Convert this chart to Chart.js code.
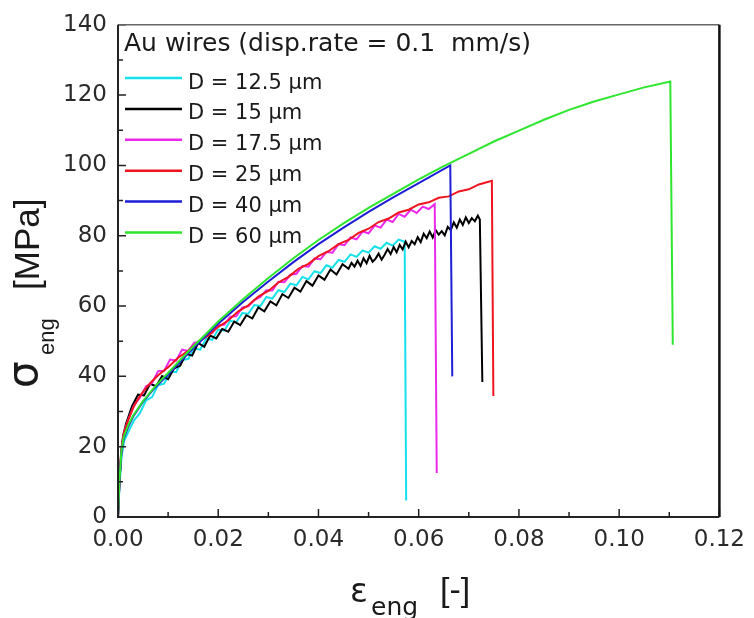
<!DOCTYPE html>
<html>
<head>
<meta charset="utf-8">
<script src="https://cdn.jsdelivr.net/npm/chart.js@4/dist/chart.umd.min.js"></script>
<style>
  html, body { margin: 0; padding: 0; background: #fff; }
  #wrap { width: 754px; height: 618px; }
</style>
</head>
<body>
<div id="wrap"><canvas id="stressstrain" width="754" height="618"></canvas></div>
<script>
// series labels and colours
const seriesLabels = ["D = 12.5 \u00b5m", "D = 15 \u00b5m", "D = 17.5 \u00b5m", "D = 25 \u00b5m", "D = 40 \u00b5m", "D = 60 \u00b5m"];
const seriesColors = ["rgb(20,225,235)", "rgb(0,0,0)", "rgb(235,40,235)", "rgb(240,20,30)", "rgb(30,30,215)", "rgb(45,230,45)"];

// D = 12.5 um
const strainCyan = [0, 0.0003, 0.0007, 0.0012, 0.002, 0.0032, 0.0044, 0.0056, 0.0068, 0.008, 0.0092, 0.0104, 0.0116, 0.0128, 0.014, 0.0152, 0.0164, 0.0176, 0.0188, 0.02, 0.0212, 0.0224, 0.0236, 0.0248, 0.026, 0.0272, 0.0284, 0.0296, 0.0308, 0.032, 0.0332, 0.0344, 0.0356, 0.0368, 0.038, 0.0392, 0.0404, 0.0416, 0.0428, 0.044, 0.0452, 0.0464, 0.0476, 0.0488, 0.05, 0.0512, 0.0524, 0.0536, 0.0548, 0.056, 0.0572, 0.0575];
const stressCyan = [0, 9, 17, 21.5, 24, 27.5, 29.6, 33.2, 34.1, 37.5, 37.9, 41.4, 41.2, 44.6, 45.0, 47.9, 47.6, 50.8, 50.4, 53.3, 53.0, 55.8, 55.4, 58.0, 57.8, 60.3, 60.0, 62.6, 62.1, 64.5, 64.0, 66.4, 65.9, 68.3, 67.6, 69.9, 69.4, 71.6, 70.9, 73.1, 72.6, 74.7, 74.0, 75.8, 75.2, 77.0, 76.3, 78.0, 77.2, 78.9, 78.3, 4.7];

// D = 15 um
const strainBlack = [0, 0.0003, 0.0006, 0.001, 0.0016, 0.0028, 0.004, 0.0052, 0.0064, 0.0076, 0.0088, 0.01, 0.0112, 0.0124, 0.0136, 0.0148, 0.016, 0.0172, 0.0184, 0.0196, 0.0208, 0.022, 0.0232, 0.0244, 0.0256, 0.0268, 0.028, 0.0292, 0.0304, 0.0316, 0.0328, 0.034, 0.0352, 0.0364, 0.0376, 0.0388, 0.04, 0.0412, 0.0424, 0.0436, 0.0448,
    0.046, 0.0466, 0.0472, 0.0478, 0.0484, 0.049, 0.0496, 0.0502, 0.0508, 0.0514, 0.052, 0.0526, 0.0532, 0.0538, 0.0544, 0.055, 0.0556, 0.0562, 0.0568, 0.0574, 0.058, 0.0586, 0.0592, 0.0598, 0.0604, 0.061, 0.0616, 0.0622, 0.0628, 0.0634, 0.064, 0.0646, 0.0652, 0.0658, 0.0664, 0.067, 0.0676, 0.0682, 0.0688, 0.0694, 0.07, 0.0706, 0.0712, 0.0718, 0.0722, 0.0727];
const stressBlack = [0, 10, 18, 23, 26.5, 31.5, 34.8, 34.6, 37.9, 37.2, 40.1, 39.2, 42.3, 43.0, 46.4, 45.9, 49.5, 48.4, 51.6, 50.8, 53.5, 52.7, 55.6, 54.6, 57.4, 56.5, 59.6, 58.5, 61.3, 60.2, 63.4, 62.3, 65.2, 64.1, 67.1, 65.8, 68.7, 67.5, 70.4, 69.0, 71.9,
    70.6, 72.3, 71.2, 72.9, 71.4, 73.6, 72.2, 74.3, 72.6, 73.5, 74.9, 73.2, 74.6, 76.2, 74.8, 76.8, 75.3, 77.4, 76.1, 78.3, 76.7, 78.5, 77.6, 79.6, 78.2, 80.6, 79.3, 81.2, 79.5, 81.6, 80.3, 81.3, 80.1, 82.5, 81.6, 83.8, 82.3, 84.6, 83.1, 85.2, 83.6, 85.0, 84.1, 85.7, 84.6, 38.4];

// D = 17.5 um
const strainMagenta = [0, 0.0003, 0.0007, 0.0012, 0.002, 0.0032, 0.0044, 0.0056, 0.0068, 0.008, 0.0092, 0.0104, 0.0116, 0.0128, 0.014, 0.0152, 0.0164, 0.0176, 0.0188, 0.02, 0.0212, 0.0224, 0.0236, 0.0248, 0.026, 0.0272, 0.0284, 0.0296, 0.0308, 0.032, 0.0332, 0.0344, 0.0356, 0.0368, 0.038, 0.0392, 0.0404, 0.0416, 0.0428, 0.044, 0.0452, 0.0464, 0.0476, 0.0488, 0.05, 0.0512, 0.0524, 0.0536, 0.0548, 0.056, 0.0572, 0.0584, 0.0596, 0.0608, 0.062, 0.0632, 0.0636];
const stressMagenta = [0, 11, 19, 24, 27.5, 31.8, 34.0, 37.2, 38.1, 41.5, 41.6, 44.8, 44.5, 47.6, 47.2, 49.6, 49.8, 51.9, 52.4, 54.6, 54.7, 57.0, 57.1, 59.6, 59.9, 61.7, 62.6, 64.5, 64.4, 66.9, 66.8, 68.9, 69.2, 71.4, 71.2, 73.5, 73.3, 75.4, 75.2, 77.6, 77.3, 79.5, 79.0, 81.2, 80.7, 82.9, 82.3, 84.6, 83.9, 86.2, 85.4, 87.4, 86.5, 88.3, 87.6, 89.0, 12.5];

// D = 25 um
const strainRed = [0, 0.0003, 0.0007, 0.0012, 0.002, 0.003, 0.004, 0.005, 0.0065, 0.008, 0.01, 0.012, 0.014, 0.016, 0.018, 0.02, 0.022, 0.024, 0.026, 0.028, 0.03, 0.032, 0.034, 0.036, 0.038, 0.04, 0.042, 0.044, 0.046, 0.048, 0.05, 0.052, 0.054, 0.056, 0.058, 0.06, 0.062, 0.064, 0.066, 0.068, 0.07, 0.072, 0.0746, 0.0749];
const stressRed = [0, 11, 19.5, 24, 27.5, 31, 33.6, 35.6, 38.2, 40.3, 42.6, 45.3, 47.3, 49.9, 51.6, 54.1, 55.9, 58.5, 60.2, 62.7, 64.3, 66.7, 68.3, 70.6, 72.0, 74.2, 75.6, 77.6, 78.8, 80.8, 82.0, 83.9, 84.9, 86.6, 87.4, 88.9, 89.5, 90.8, 91.2, 92.6, 93.2, 94.6, 95.6, 34.4];

// D = 40 um
const strainBlue = [0, 0.0003, 0.0007, 0.0012, 0.002, 0.003, 0.005, 0.0075, 0.01, 0.0125, 0.015, 0.0175, 0.02, 0.025, 0.03, 0.035, 0.04, 0.045, 0.05, 0.055, 0.06, 0.0663, 0.0667];
const stressBlue = [0, 10, 18.5, 22.5, 25.5, 28.5, 32.8, 37, 40.5, 44.3, 48, 51.5, 55, 61.2, 67, 72.5, 77.6, 82.3, 86.8, 91, 95, 100, 40];

// D = 60 um
const strainGreen = [0, 0.0003, 0.0007, 0.0012, 0.002, 0.003, 0.005, 0.0075, 0.01, 0.0125, 0.015, 0.0175, 0.02, 0.025, 0.03, 0.035, 0.04, 0.045, 0.05, 0.055, 0.06, 0.065, 0.07, 0.075, 0.08, 0.085, 0.09, 0.095, 0.1, 0.105, 0.1102, 0.1107];
const stressGreen = [0, 10.5, 19, 23, 26, 28.8, 33, 37.3, 41, 44.8, 48.5, 52, 55.6, 62, 68, 73.6, 78.8, 83.5, 87.9, 92, 96, 99.8, 103.3, 106.8, 109.9, 113, 115.8, 118.2, 120.2, 122.2, 123.9, 49];

const strainTicks = [0, 0.02, 0.04, 0.06, 0.08, 0.1, 0.12];
const stressTicks = [0, 20, 40, 60, 80, 100, 120, 140];
const legendTitle = "Au wires (disp.rate = 0.1  mm/s)";

const allStrain = [strainCyan, strainBlack, strainMagenta, strainRed, strainBlue, strainGreen];
const allStress = [stressCyan, stressBlack, stressMagenta, stressRed, stressBlue, stressGreen];

const toPoints = (xs, ys) => xs.map((x, i) => ({ x: x, y: ys[i] }));

const datasets = seriesLabels.map((label, i) => ({
    label: label,
    data: toPoints(allStrain[i], allStress[i]),
    borderColor: seriesColors[i],
    backgroundColor: seriesColors[i],
    borderWidth: 2,
    pointRadius: 0,
    tension: 0,
    fill: false,
    order: seriesLabels.length - 1 - i,
}));

// frame, inward ticks, legend and axis titles
const decorPlugin = {
    id: "decor",
    afterDraw(chart) {
        const ctx = chart.ctx;
        const a = chart.chartArea;
        const xs = chart.scales.x;
        const ys = chart.scales.y;
        ctx.save();

        // inward ticks, minor ones halfway
        ctx.strokeStyle = "#222";
        ctx.lineWidth = 1.5;
        ctx.beginPath();
        strainTicks.forEach((v, i) => {
            const px = xs.getPixelForValue(v);
            ctx.moveTo(px, a.bottom);
            ctx.lineTo(px, a.bottom - 8);
            if (i < strainTicks.length - 1) {
                const mx = xs.getPixelForValue((v + strainTicks[i + 1]) / 2);
                ctx.moveTo(mx, a.bottom);
                ctx.lineTo(mx, a.bottom - 5);
            }
        });
        stressTicks.forEach((v, i) => {
            const py = ys.getPixelForValue(v);
            ctx.moveTo(a.left, py);
            ctx.lineTo(a.left + 8, py);
            if (i < stressTicks.length - 1) {
                const my = ys.getPixelForValue((v + stressTicks[i + 1]) / 2);
                ctx.moveTo(a.left, my);
                ctx.lineTo(a.left + 5, my);
            }
        });
        ctx.stroke();

        // frame
        ctx.lineWidth = 1.5;
        ctx.strokeStyle = "#666";
        ctx.beginPath();
        ctx.moveTo(a.left, a.top);
        ctx.lineTo(a.right, a.top);
        ctx.stroke();
        ctx.lineWidth = 2.5;
        ctx.strokeStyle = "#111";
        ctx.beginPath();
        ctx.moveTo(a.right, a.top);
        ctx.lineTo(a.right, a.bottom);
        ctx.stroke();
        ctx.lineWidth = 2;
        ctx.strokeStyle = "#222";
        ctx.beginPath();
        ctx.moveTo(a.left, a.top);
        ctx.lineTo(a.left, a.bottom);
        ctx.lineTo(a.right, a.bottom);
        ctx.stroke();

        // legend
        ctx.fillStyle = "#1a1a1a";
        ctx.textBaseline = "alphabetic";
        ctx.textAlign = "left";
        ctx.font = '25px "DejaVu Sans"';
        ctx.fillText(legendTitle, 124, 51);
        ctx.font = '21px "DejaVu Sans"';
        chart.data.datasets.forEach((ds, i) => {
            const ly = 78 + i * 30.9;
            ctx.strokeStyle = ds.borderColor;
            ctx.lineWidth = 2.5;
            ctx.beginPath();
            ctx.moveTo(125, ly);
            ctx.lineTo(182, ly);
            ctx.stroke();
            ctx.fillText(ds.label, 188, ly + 10.5);
        });

        // x title
        ctx.font = '33px "DejaVu Sans"';
        ctx.fillText("\u03b5", 350, 602);
        ctx.font = '25px "DejaVu Sans"';
        ctx.fillText("eng", 371, 615);
        ctx.font = '34px "Liberation Sans"';
        ctx.fillText("[-]", 440, 601);

        // y title, rotated
        ctx.translate(0, 400);
        ctx.rotate(-Math.PI / 2);
        ctx.font = '42px "DejaVu Sans"';
        ctx.fillText("\u03c3", 12, 37);
        ctx.font = '22px "Liberation Sans"';
        ctx.fillText("eng", 45, 54);
        ctx.font = '35px "Liberation Sans"';
        ctx.fillText("[MPa]", 110, 39);
        ctx.restore();
    },
};

const ctx = document.getElementById("stressstrain").getContext("2d");
const chart = new Chart(ctx, {
    type: "line",
    data: { datasets: datasets },
    options: {
        responsive: false,
        animation: false,
        layout: { padding: { left: 0, top: 24, right: 30, bottom: 0 } },
        plugins: { legend: { display: false }, tooltip: { enabled: false } },
        scales: {
            x: {
                type: "linear",
                min: 0,
                max: 0.12,
                afterFit: (s) => { s.height = 101; },
                afterBuildTicks: (s) => { s.ticks = strainTicks.map((v) => ({ value: v })); },
                grid: { display: false, drawTicks: false },
                border: { display: false },
                ticks: {
                    padding: 9,
                    color: "#2a2a2a",
                    font: { family: "DejaVu Sans", size: 23 },
                    maxRotation: 0,
                    callback: (v) => v.toFixed(2),
                },
            },
            y: {
                type: "linear",
                min: 0,
                max: 140,
                afterFit: (s) => { s.width = 118; },
                afterBuildTicks: (s) => { s.ticks = stressTicks.map((v) => ({ value: v })); },
                grid: { display: false, drawTicks: false },
                border: { display: false },
                ticks: {
                    padding: 11,
                    color: "#2a2a2a",
                    font: { family: "DejaVu Sans", size: 23 },
                    callback: (v) => String(v),
                },
            },
        },
    },
    plugins: [decorPlugin],
});
</script>
</body>
</html>
